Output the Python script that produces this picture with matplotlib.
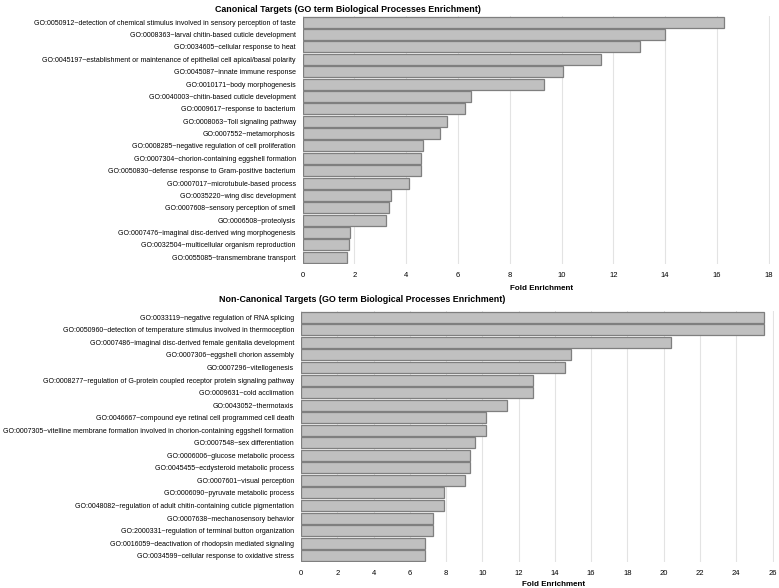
import matplotlib.pyplot as plt

plt.rcParams['font.family'] = ['Liberation Sans', 'DejaVu Sans']

canon_terms = [
    "GO:0050912~detection of chemical stimulus involved in sensory perception of taste",
    "GO:0008363~larval chitin-based cuticle development",
    "GO:0034605~cellular response to heat",
    "GO:0045197~establishment or maintenance of epithelial cell apical/basal polarity",
    "GO:0045087~innate immune response",
    "GO:0010171~body morphogenesis",
    "GO:0040003~chitin-based cuticle development",
    "GO:0009617~response to bacterium",
    "GO:0008063~Toll signaling pathway",
    "GO:0007552~metamorphosis",
    "GO:0008285~negative regulation of cell proliferation",
    "GO:0007304~chorion-containing eggshell formation",
    "GO:0050830~defense response to Gram-positive bacterium",
    "GO:0007017~microtubule-based process",
    "GO:0035220~wing disc development",
    "GO:0007608~sensory perception of smell",
    "GO:0006508~proteolysis",
    "GO:0007476~imaginal disc-derived wing morphogenesis",
    "GO:0032504~multicellular organism reproduction",
    "GO:0055085~transmembrane transport",
]
canon_fold = [16.29, 13.98, 13.03, 11.52, 10.04, 9.32, 6.52, 6.25, 5.58, 5.29,
              4.66, 4.57, 4.57, 4.09, 3.43, 3.34, 3.23, 1.83, 1.77, 1.73]

noncanon_terms = [
    "GO:0033119~negative regulation of RNA splicing",
    "GO:0050960~detection of temperature stimulus involved in thermoception",
    "GO:0007486~imaginal disc-derived female genitalia development",
    "GO:0007306~eggshell chorion assembly",
    "GO:0007296~vitellogenesis",
    "GO:0008277~regulation of G-protein coupled receptor protein signaling pathway",
    "GO:0009631~cold acclimation",
    "GO:0043052~thermotaxis",
    "GO:0046667~compound eye retinal cell programmed cell death",
    "GO:0007305~vitelline membrane formation involved in chorion-containing eggshell formation",
    "GO:0007548~sex differentiation",
    "GO:0006006~glucose metabolic process",
    "GO:0045455~ecdysteroid metabolic process",
    "GO:0007601~visual perception",
    "GO:0006090~pyruvate metabolic process",
    "GO:0048082~regulation of adult chitin-containing cuticle pigmentation",
    "GO:0007638~mechanosensory behavior",
    "GO:2000331~regulation of terminal button organization",
    "GO:0016059~deactivation of rhodopsin mediated signaling",
    "GO:0034599~cellular response to oxidative stress",
]
noncanon_fold = [25.5, 25.5, 20.4, 14.9, 14.58, 12.79, 12.79, 11.35, 10.22, 10.22,
                 9.59, 9.30, 9.30, 9.03, 7.87, 7.87, 7.30, 7.30, 6.81, 6.81]

canon_ticks = list(range(0, 19, 2))
noncanon_ticks = list(range(0, 27, 2))

W, H = 779, 588
fig = plt.figure(figsize=(W / 100, H / 100), dpi=100)


def draw_panel(rect, terms, fold, ticks, title, title_xy, xlabel_xy):
    ax = fig.add_axes(rect)
    ypos = list(range(len(terms)))
    ax.barh(ypos, fold, height=0.88, color='#c0c0c0', edgecolor='#7f7f7f',
            linewidth=0.9, zorder=3)
    ax.set_ylim(len(terms) - 0.5, -0.5)
    ax.set_xlim(0, ticks[-1] + 0.05)
    ax.set_yticks(ypos)
    ax.set_yticklabels(terms, fontsize=5.05)
    ax.set_xticks(ticks)
    ax.set_xticklabels([str(t) for t in ticks], fontsize=5.5)
    ax.tick_params(axis='both', length=0, pad=5)
    ax.tick_params(axis='x', pad=6)
    ax.grid(axis='x', color='#e3e3e3', linewidth=0.8, zorder=0)
    for s in ax.spines.values():
        s.set_visible(False)
    fig.text(title_xy[0] / W, 1 - title_xy[1] / H, title, ha='center', va='center',
             fontsize=6.4, fontweight='bold')
    fig.text(xlabel_xy[0] / W, 1 - xlabel_xy[1] / H, 'Fold Enrichment',
             ha='center', va='center', fontsize=5.8, fontweight='bold')
    return ax


draw_panel([302.7 / W, 1 - 263.5 / H, (770 - 302.7) / W, (263.5 - 16) / H],
           canon_terms, canon_fold, canon_ticks,
           'Canonical Targets (GO term Biological Processes Enrichment)', (348, 10), (542, 289))
draw_panel([301 / W, 1 - 562 / H, (773.5 - 301) / W, (562 - 311) / H],
           noncanon_terms, noncanon_fold, noncanon_ticks,
           'Non-Canonical Targets (GO term Biological Processes Enrichment)', (362, 300), (554, 584))

fig.savefig('out.png', dpi=100)
